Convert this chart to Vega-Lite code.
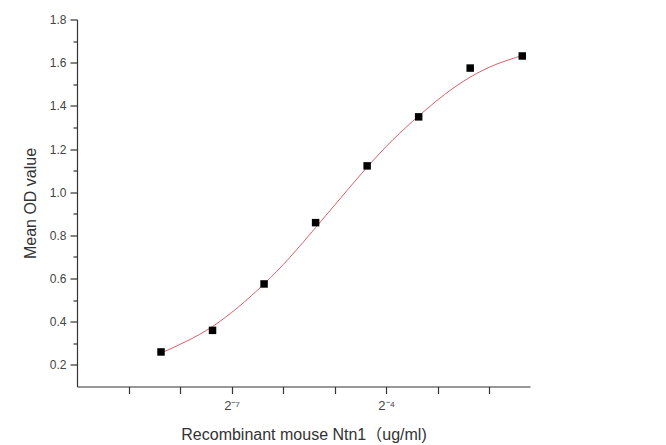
{
  "$schema": "https://vega.github.io/schema/vega-lite/v6.json",
  "autosize": "none",
  "width": 453,
  "height": 367,
  "padding": {"left": 77, "top": 19.5, "right": 136, "bottom": 58.5},
  "background": "white",
  "config": {
    "view": {"stroke": null},
    "font": "Liberation Sans",
    "axis": {
      "domainColor": "#333333",
      "tickColor": "#333333",
      "labelColor": "#444444",
      "titleColor": "#333333",
      "labelFont": "Liberation Sans",
      "titleFont": "Liberation Sans, Noto Sans CJK SC",
      "labelFontSize": 12,
      "titleFontSize": 16,
      "titleFontWeight": "normal",
      "grid": false,
      "domainWidth": 1.2,
      "tickWidth": 1.2
    }
  },
  "datasets": {
    "points": [
      {"conc": 0.003023, "od": 0.26},
      {"conc": 0.006045, "od": 0.36},
      {"conc": 0.01209, "od": 0.575},
      {"conc": 0.02418, "od": 0.859},
      {"conc": 0.04836, "od": 1.122},
      {"conc": 0.09672, "od": 1.349},
      {"conc": 0.1934, "od": 1.575},
      {"conc": 0.3896, "od": 1.631}
    ],
    "curve": [
      {"conc": 0.003023, "od": 0.255},
      {"conc": 0.004274, "od": 0.31},
      {"conc": 0.006045, "od": 0.378},
      {"conc": 0.008549, "od": 0.468},
      {"conc": 0.01209, "od": 0.575},
      {"conc": 0.0171, "od": 0.698},
      {"conc": 0.02418, "od": 0.836},
      {"conc": 0.03419, "od": 0.977},
      {"conc": 0.04836, "od": 1.116},
      {"conc": 0.06839, "od": 1.243},
      {"conc": 0.09672, "od": 1.353},
      {"conc": 0.1368, "od": 1.452},
      {"conc": 0.1934, "od": 1.533},
      {"conc": 0.2735, "od": 1.592},
      {"conc": 0.3896, "od": 1.633}
    ]
  },
  "encoding": {
    "x": {
      "field": "conc",
      "type": "quantitative",
      "scale": {"type": "log", "base": 2, "domain": [0.0009765625, 0.4323], "nice": false},
      "axis": {
        "title": "Recombinant mouse Ntn1（ug/ml)",
        "values": [0.001953125, 0.00390625, 0.0078125, 0.015625, 0.03125, 0.0625, 0.125, 0.25],
        "labelExpr": "datum.value == 0.0078125 ? '2⁻⁷' : (datum.value == 0.0625 ? '2⁻⁴' : '')",
        "labelFontSize": 13,
        "tickSize": 7,
        "labelPadding": 6,
        "titlePadding": 14,
        "labelFlush": false
      }
    },
    "y": {
      "field": "od",
      "type": "quantitative",
      "scale": {"domain": [0.1, 1.8], "nice": false, "zero": false},
      "axis": {
        "title": "Mean OD value",
        "values": [0.2, 0.3, 0.4, 0.5, 0.6, 0.7, 0.8, 0.9, 1.0, 1.1, 1.2, 1.3, 1.4, 1.5, 1.6, 1.7, 1.8],
        "labelExpr": "round(datum.value * 10) % 2 == 0 ? format(datum.value, '.1f') : ''",
        "tickSize": {"condition": {"test": "round(datum.value * 10) % 2 == 0", "value": 7}, "value": 4},
        "labelPadding": 4,
        "titlePadding": 11,
        "labelFlush": false
      }
    }
  },
  "layer": [
    {
      "data": {"name": "curve"},
      "mark": {"type": "line", "color": "#d9606a", "strokeWidth": 1, "interpolate": "natural"}
    },
    {
      "data": {"name": "points"},
      "mark": {"type": "point", "shape": "square", "filled": true, "color": "#000000", "opacity": 1, "size": 56}
    }
  ]
}
